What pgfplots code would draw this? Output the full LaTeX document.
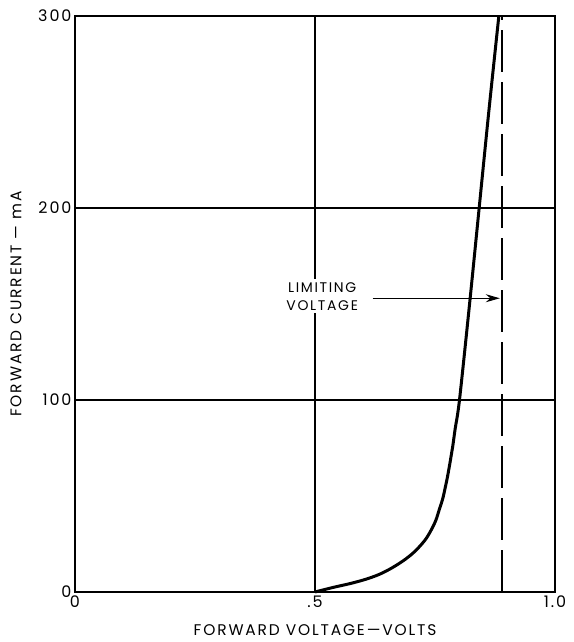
\documentclass[border=0pt]{standalone}
\usepackage{fontspec}
\setmainfont{Poppins}
\newfontfamily\lbl[LetterSpace=12]{Poppins}
\usepackage{pgfplots}
\pgfplotsset{compat=1.18}
\usetikzlibrary{arrows.meta}
\begin{document}
\begin{tikzpicture}[x=1bp,y=1bp]
\begin{axis}[
    scale only axis,
    width=480bp, height=576bp,
    xmin=0, xmax=1, ymin=0, ymax=300,
    xtick={0,0.5,1}, xticklabels={0,.5,1.0},
    ytick={0,100,200,300},
    major tick length=0pt,
    grid=major,
    grid style={black, line width=1.1bp},
    axis line style={black, line width=1.6bp},
    /pgf/number format/assume math mode=true,
    tick label style={font=\fontsize{16}{18}\selectfont\lbl},
    xlabel={FORWARD VOLTAGE—VOLTS},
    ylabel={FORWARD CURRENT — mA},
    label style={font=\fontsize{15.5}{18}\selectfont\lbl},
    xlabel style={yshift=-10bp},
    ylabel style={yshift=10bp},
    clip=false,
]
\addplot[black, line width=3bp, smooth, tension=0.5] coordinates {
    (0.500,0) (0.538,2.4) (0.575,4.5) (0.608,6.8) (0.635,9.3) (0.660,12.5)
    (0.684,16.3) (0.703,20) (0.719,24) (0.732,28) (0.743,32.7) (0.752,37.5)
    (0.759,43) (0.766,48.5) (0.771,54) (0.776,60) (0.781,67) (0.787,76)
    (0.792,85) (0.801,100) (0.822,150) (0.842,200) (0.862,250) (0.883,300)
};
\addplot[black, line width=1.6bp, dash pattern=on 42bp off 10bp] coordinates {(0.89,0) (0.89,300)};
\draw[black, line width=1.1bp, -{Stealth[length=14bp,width=8bp]}] (axis cs:0.62,153) -- (axis cs:0.885,153);
\node[fill=white, align=center, inner sep=3bp, font=\fontsize{14}{18}\selectfont\lbl] at (axis cs:0.515,154) {LIMITING\\VOLTAGE};
\end{axis}
\pgfresetboundingbox
\path[use as bounding box] ([shift={(-75bp,-50bp)}]current axis.south west) rectangle ([shift={(19bp,16bp)}]current axis.north east);
\end{tikzpicture}
\end{document}
